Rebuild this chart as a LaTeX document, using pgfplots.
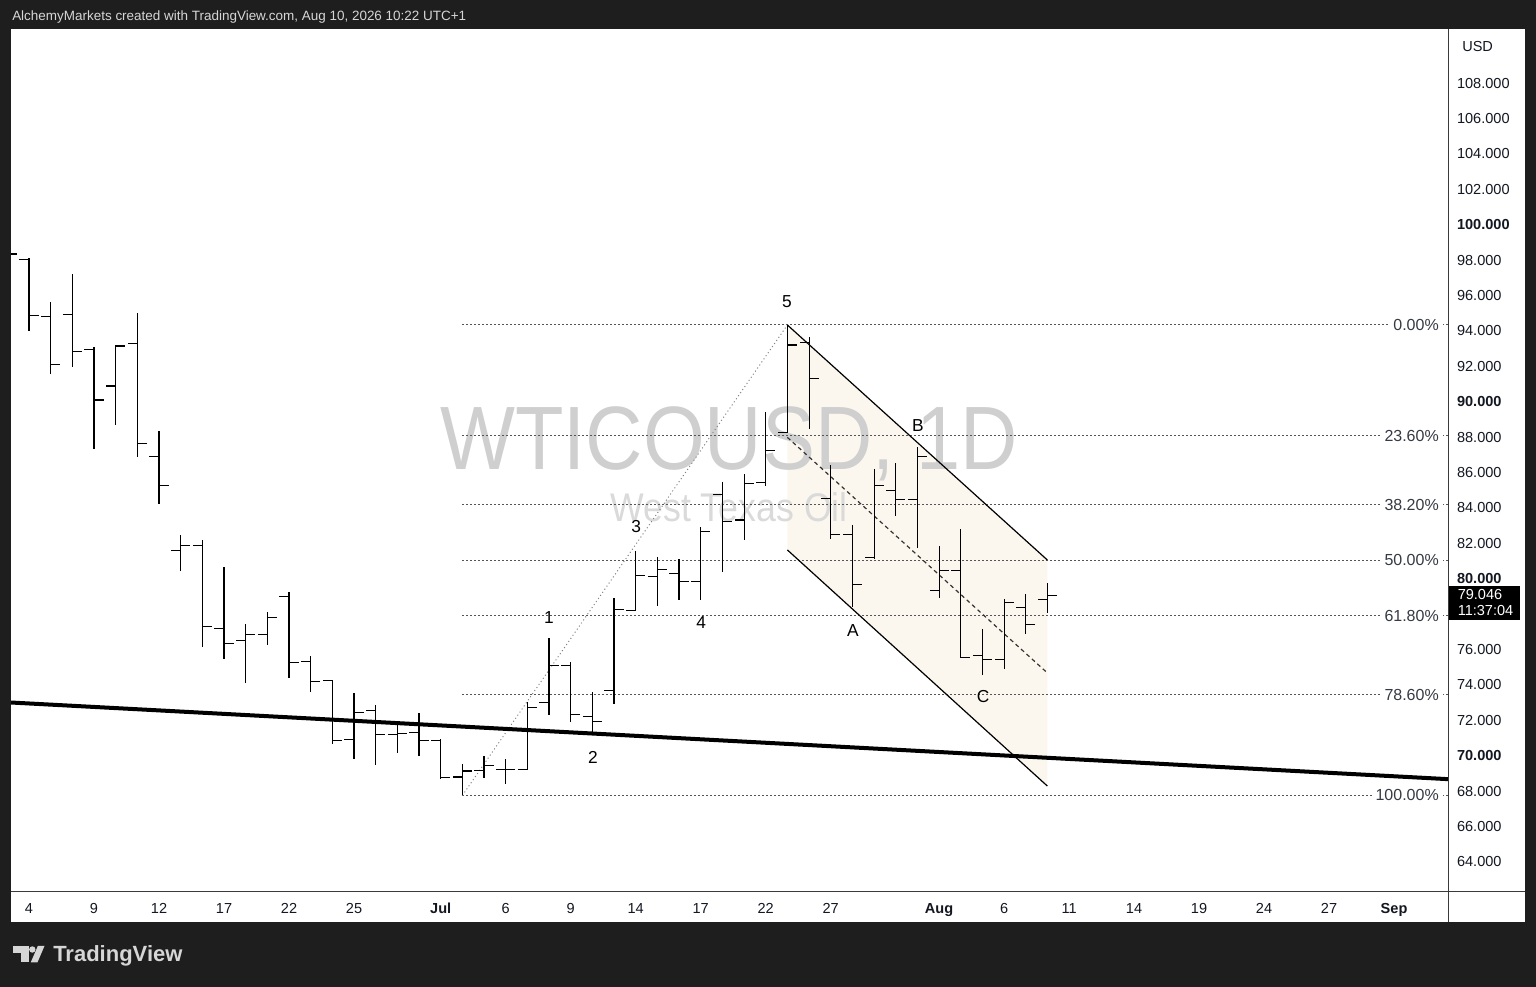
\documentclass[border=0pt]{standalone}
\usepackage{pgfplots}
\pgfplotsset{compat=1.18}
\usepackage{pgfplotstable}
\usepackage{fontspec}
\setmainfont{Liberation Sans}
\definecolor{frame}{HTML}{1E1E1E}
\definecolor{hdr}{HTML}{D6D6D6}
\definecolor{sepc}{HTML}{3A3A3A}
\definecolor{tickc}{HTML}{131722}
\definecolor{fibc}{HTML}{555555}
\definecolor{chan}{HTML}{FCF7EE}
\definecolor{wm}{HTML}{CFCFCF}
\definecolor{wmb}{HTML}{DADADA}
\newcommand{\tk}{\fontsize{10.9}{12}\selectfont}
\newcommand{\fk}{\fontsize{12}{13}\selectfont}

% trading-day index: 0 = Jun 4, 19 = Jul 1, 42 = Aug 3, 47 = Aug 10
\pgfplotstableread{
i o h l c
-1 99.00 99.50 97.60 98.35
0 98.03 98.11 94.00 94.89
1 94.83 95.66 91.55 92.09
2 94.92 97.20 91.97 92.83
3 92.97 93.08 87.33 90.10
4 90.89 93.19 88.69 93.15
5 93.30 95.00 86.86 87.63
6 86.89 88.35 84.22 85.29
7 81.58 82.47 80.43 81.86
8 81.86 82.19 76.15 77.28
9 77.19 80.64 75.46 76.35
10 76.49 77.42 74.14 76.83
11 76.83 78.10 76.25 77.82
12 78.98 79.23 74.38 75.25
13 75.31 75.63 73.58 74.18
14 74.23 74.27 70.65 70.88
15 70.94 73.52 69.84 72.44
16 72.58 72.86 69.47 71.20
17 71.20 71.97 70.16 71.26
18 71.31 72.42 69.97 70.88
19 70.88 70.94 68.67 68.77
20 68.80 69.52 67.76 69.14
21 69.18 69.97 68.77 69.47
22 69.25 69.80 68.39 69.20
23 69.22 73.04 69.22 72.71
24 73.01 76.63 72.29 75.12
25 75.12 75.31 71.91 72.33
26 72.20 73.58 71.35 71.94
27 73.67 78.89 72.95 78.27
28 78.23 81.58 78.23 80.21
29 80.11 81.24 78.45 80.53
30 80.30 81.11 78.79 79.83
31 79.83 82.94 78.79 82.69
32 84.77 85.48 80.39 83.26
33 83.32 85.90 82.19 85.39
34 85.42 89.44 85.24 87.23
35 88.27 94.34 88.22 93.21
36 93.36 93.68 88.44 91.29
37 84.54 86.43 82.22 82.52
38 82.52 83.03 78.38 79.70
39 81.21 86.18 81.11 85.26
40 84.97 86.56 83.54 84.50
41 84.50 87.43 81.75 86.93
42 79.36 81.85 78.89 80.45
43 80.45 82.79 75.55 75.55
44 75.68 77.14 74.59 75.44
45 75.44 78.85 74.93 78.64
46 78.38 79.13 76.87 77.44
47 78.85 79.74 78.04 79.046
}\ohlc

\begin{document}
\begin{tikzpicture}[x=0.75pt,y=0.75pt]
\fill[frame] (0,0) rectangle (1536,987);
\fill[white] (11,65) rectangle (1525,958);
\begin{axis}[
  at={(8.25pt,71.25pt)}, anchor=south west, scale only axis,
  width=1077.75pt, height=647.25pt,
  xmin=-0.8308, xmax=65.49, ymin=62.305, ymax=111.062,
  axis x line*=bottom, axis y line*=right,
  axis line style={draw=none},
  major tick length=0pt,
  xtick={0,3,6,9,12,15,19,22,25,28,31,34,37,42,45,48,51,54,57,60,63},
  xticklabels={4,9,12,17,22,25,\textbf{Jul},6,9,14,17,22,27,\textbf{Aug},6,11,14,19,24,27,\textbf{Sep}},
  ytick={64,66,...,108},
  yticklabels={64.000,66.000,68.000,\textbf{70.000},72.000,74.000,76.000,78.000,\textbf{80.000},82.000,84.000,86.000,88.000,\textbf{90.000},92.000,94.000,96.000,98.000,\textbf{100.000},102.000,104.000,106.000,108.000},
  tick label style={font=\tk, text=tickc},
  xticklabel style={anchor=base, yshift=-15.9pt},
  yticklabel style={anchor=west, inner sep=0pt, xshift=6.6pt},
]
% channel fill
\addplot[fill=chan, draw=none] coordinates {(35,94.34) (47,81.06) (47,68.29) (35,81.63)} --cycle;
% watermark
\node[anchor=base, text=wm, font=\fontsize{67.5}{70}\selectfont, xscale=0.882] at (axis cs:32.31,86.15) {WTICOUSD, 1D};
\node[anchor=base, text=wmb, font=\fontsize{30}{32}\selectfont, xscale=0.892] at (axis cs:32.31,83.21) {West Texas Oil};
% fib levels
\addplot[fibc, line width=0.8pt, dash pattern=on 0.9pt off 2.1pt] coordinates {(20,94.34) (66,94.34)};
\addplot[fibc, line width=0.8pt, dash pattern=on 0.9pt off 2.1pt] coordinates {(20,88.07) (66,88.07)};
\addplot[fibc, line width=0.8pt, dash pattern=on 0.9pt off 2.1pt] coordinates {(20,84.19) (66,84.19)};
\addplot[fibc, line width=0.8pt, dash pattern=on 0.9pt off 2.1pt] coordinates {(20,81.05) (66,81.05)};
\addplot[fibc, line width=0.8pt, dash pattern=on 0.9pt off 2.1pt] coordinates {(20,77.91) (66,77.91)};
\addplot[fibc, line width=0.8pt, dash pattern=on 0.9pt off 2.1pt] coordinates {(20,73.45) (66,73.45)};
\addplot[fibc, line width=0.8pt, dash pattern=on 0.9pt off 2.1pt] coordinates {(20,67.76) (66,67.76)};
\addplot[gray, line width=0.7pt, dash pattern=on 0.8pt off 2pt] coordinates {(20,67.76) (35,94.34)};
% long trend line
\addplot[black, line width=3pt] coordinates {(-0.8308,73.01) (65.49,68.68)};
% channel lines
\addplot[black, line width=0.9pt] coordinates {(35,94.34) (47,81.06)};
\addplot[black, line width=0.9pt] coordinates {(35,81.63) (47,68.29)};
\addplot[black!80, line width=0.9pt, dash pattern=on 3pt off 2.5pt] coordinates {(35,87.99) (47,74.68)};
% OHLC bars
\addplot[draw=none, mark=none, error bars/.cd, y dir=both, y explicit, error mark=none, error bar style={draw=black, solid, line width=0.8pt}]
  table[x=i, y expr={(\thisrow{h}+\thisrow{l})/2}, y error expr={(\thisrow{h}-\thisrow{l})/2}] {\ohlc};
\addplot[draw=none, mark=none, error bars/.cd, x dir=minus, x fixed=0.44, error mark=none, error bar style={draw=black, solid, line width=0.8pt}]
  table[x=i, y=o] {\ohlc};
\addplot[draw=none, mark=none, error bars/.cd, x dir=plus, x fixed=0.44, error mark=none, error bar style={draw=black, solid, line width=0.8pt}]
  table[x=i, y=c] {\ohlc};
% wave labels
\begin{scope}[every node/.style={font=\fontsize{13}{14}\selectfont, text=black, inner sep=0pt}]
\node at (axis cs:34.98,95.64) {5};
\node at (axis cs:24.0,77.79) {1};
\node at (axis cs:26.03,69.93) {2};
\node at (axis cs:28.02,82.93) {3};
\node at (axis cs:31.02,77.50) {4};
\node at (axis cs:38.03,77.05) {A};
\node at (axis cs:41.03,88.63) {B};
\node at (axis cs:44.03,73.32) {C};
\end{scope}
% fib labels
\begin{scope}[every node/.style={font=\fk, text=tickc!85, fill=white, inner xsep=3pt, inner ysep=1pt, anchor=east}]
\node at (axis cs:65.26,94.34) {0.00\%};
\node at (axis cs:65.26,88.07) {23.60\%};
\node at (axis cs:65.26,84.19) {38.20\%};
\node at (axis cs:65.26,81.05) {50.00\%};
\node at (axis cs:65.26,77.91) {61.80\%};
\node at (axis cs:65.26,73.45) {78.60\%};
\node at (axis cs:65.26,67.76) {100.00\%};
\end{scope}
\end{axis}
% separators
\draw[sepc, line width=0.75pt] (1448,65) -- (1448,958);
\draw[sepc, line width=0.75pt] (11,95) -- (1525,95);
% header
\node[anchor=base west, text=hdr, font=\fontsize{10.1}{11}\selectfont, inner sep=0pt] at (12,966) {AlchemyMarkets created with TradingView.com, Aug 10, 2026 10:22 UTC+1};
% USD
\node[anchor=west, text=tickc, font=\tk, inner sep=0pt] at (1462,940) {USD};
% price box
\fill[black] (1448.5,367) rectangle (1519.5,401);
\node[anchor=west, text=white, font=\tk, inner sep=0pt] at (1457.5,392) {79.046};
\node[anchor=west, text=white, font=\tk, inner sep=0pt] at (1457.5,376) {11:37:04};
% TradingView logo
\fill[hdr] (12.7,34.3) rectangle (29,41);
\fill[hdr] (21,24.7) rectangle (29,41);
\fill[hdr] (32.3,37.5) circle (3.2);
\fill[hdr] (37.8,41) -- (44.5,41) -- (37.5,24.7) -- (30.8,24.7) -- cycle;
\node[anchor=base west, text=hdr, font=\bfseries\fontsize{16.5}{18}\selectfont, inner sep=0pt] at (53,25) {TradingView};
\pgfresetboundingbox
\useasboundingbox (0,0) rectangle (1536,987);
\end{tikzpicture}
\end{document}
